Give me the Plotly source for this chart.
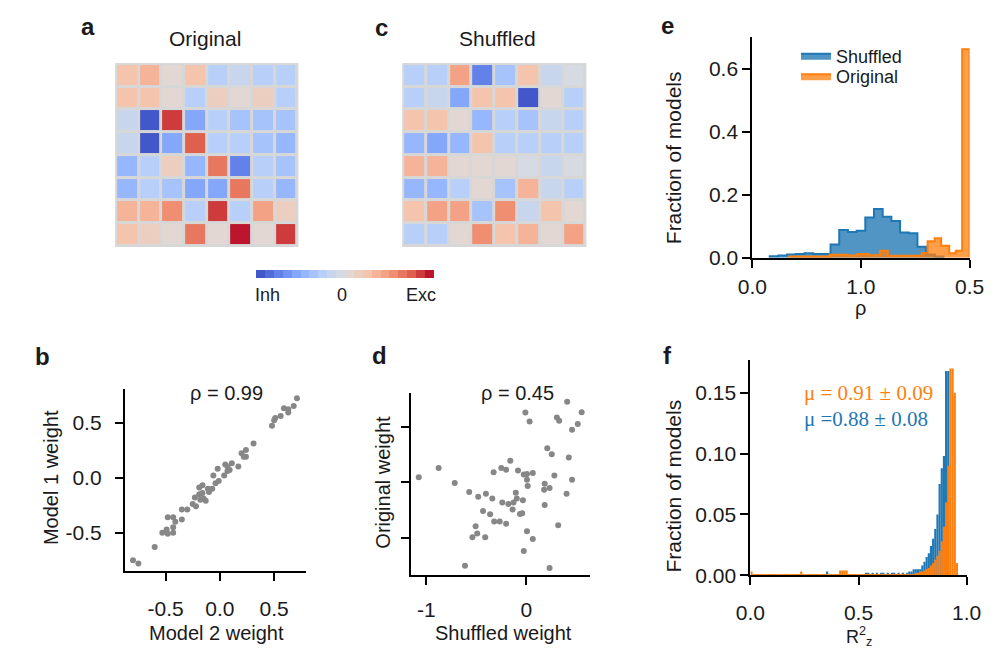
import plotly.graph_objects as go

W, H = 995, 651


def px(x):
    return x / W


def py(y):
    return 1 - y / H


# ---------------- data ----------------
# panel a / c: 8x8 connectivity weights (scaled -1 .. 1)
orig_weights = [
    [0.25, 0.35, 0.02, 0.25, -0.25, -0.10, -0.20, -0.27],
    [0.22, 0.20, 0.00, -0.28, 0.12, 0.10, 0.12, -0.25],
    [-0.15, -0.95, 0.82, -0.60, -0.25, -0.35, -0.38, -0.40],
    [-0.15, -0.95, -0.55, 0.75, -0.25, -0.30, -0.35, -0.50],
    [-0.45, -0.20, 0.15, -0.50, 0.68, -0.75, -0.30, -0.40],
    [-0.45, -0.22, -0.40, -0.60, -0.55, 0.68, -0.28, -0.48],
    [0.35, 0.35, 0.60, -0.20, 0.80, -0.25, 0.40, 0.15],
    [0.25, 0.15, 0.00, 0.62, 0.00, 0.95, 0.02, 0.80],
]
shuf_weights = [
    [-0.28, -0.22, 0.42, -0.75, -0.35, 0.25, -0.15, -0.05],
    [-0.25, -0.12, -0.60, 0.22, 0.30, -0.95, 0.00, -0.20],
    [0.22, 0.25, 0.00, -0.45, -0.25, -0.38, -0.12, -0.30],
    [-0.48, -0.52, -0.42, 0.30, -0.25, -0.20, -0.20, -0.28],
    [0.35, 0.38, 0.08, 0.00, 0.03, -0.02, -0.15, -0.03],
    [-0.45, -0.42, -0.30, 0.10, -0.35, 0.35, -0.12, -0.22],
    [0.25, 0.42, 0.42, -0.35, 0.50, -0.15, 0.22, 0.00],
    [-0.20, -0.30, 0.00, 0.50, 0.22, 0.38, 0.00, 0.48],
]
cbar_labels = ["Inh", "0", "Exc"]

# panel b
model2_weight = [-0.80, -0.75, -0.60, -0.53, -0.49, -0.48, -0.43, -0.43, -0.48, -0.43,
                 -0.41, -0.35, -0.35, -0.30, -0.25, -0.22, -0.23, -0.19, -0.16, -0.18,
                 -0.15, -0.13, -0.16, -0.19, -0.11, -0.10, -0.07, -0.06, -0.04, -0.01,
                 -0.02, 0.04, 0.05, 0.07, 0.07, 0.09, 0.11, 0.17, 0.20, 0.22,
                 0.24, 0.24, 0.31, 0.48, 0.50, 0.51, 0.56, 0.59, 0.63, 0.63,
                 0.68, 0.71]
model1_weight = [-0.75, -0.78, -0.63, -0.50, -0.47, -0.51, -0.50, -0.45, -0.36, -0.36,
                 -0.40, -0.38, -0.29, -0.29, -0.24, -0.26, -0.18, -0.15, -0.14, -0.20,
                 -0.19, -0.21, -0.07, -0.09, -0.10, -0.13, -0.10, 0.02, -0.05, -0.03,
                 0.08, 0.02, 0.12, 0.10, 0.06, 0.07, 0.13, 0.10, 0.22, 0.19,
                 0.25, 0.19, 0.31, 0.47, 0.52, 0.54, 0.56, 0.63, 0.62, 0.59,
                 0.65, 0.72]
b_ticks = [-0.5, 0.0, 0.5]
b_ticktext = ["-0.5", "0.0", "0.5"]

# panel d
shuffled_weight = [-1.077, -0.878, -0.717, -0.572, -0.482, -0.405, -0.341, -0.434, -0.363, -0.322,
                   -0.267, -0.203, -0.508, -0.492, -0.540, -0.412, -0.614, -0.328, -0.251, -0.203,
                   -0.161, -0.084, -0.241, -0.180, -0.138, -0.129, -0.106, -0.096, -0.064, -0.042,
                   -0.035, -0.026, 0.006, 0.006, 0.013, 0.064, -0.010, 0.032, 0.006, 0.064,
                   -0.026, 0.183, 0.232, 0.177, 0.183, 0.280, 0.209, 0.254, 0.232, 0.305,
                   0.328, 0.408, 0.457, 0.514, 0.553, 0.424, 0.457, 0.402, 0.318]
original_weight = [0.044, 0.127, -0.009, -0.089, -0.133, -0.104, -0.148, -0.260, -0.290, -0.355,
                   -0.355, -0.376, -0.399, -0.464, -0.497, -0.497, -0.754, 0.089, 0.127, 0.112,
                   0.192, 0.104, -0.183, -0.198, -0.246, -0.183, -0.095, -0.148, -0.287, -0.281,
                   -0.163, 0.068, 0.074, 0.021, -0.036, 0.083, 0.627, 0.547, -0.444, -0.512,
                   -0.621, -0.015, -0.053, -0.068, -0.207, 0.059, 0.305, 0.251, -0.775, 0.583,
                   0.553, 0.725, 0.473, 0.524, 0.630, 0.222, 0.021, -0.104, -0.388]
d_xticks = [-1, 0]
d_xticktext = ["-1", "0"]
d_yticks = [-0.5, 0.0, 0.5]

# panel e: histogram of rho
e_shuf_edges = [0.04, 0.06, 0.08, 0.10, 0.12, 0.14, 0.16, 0.18, 0.20, 0.22, 0.24,
                0.26, 0.28, 0.30, 0.32, 0.34, 0.36, 0.38, 0.40, 0.42, 0.44]
e_shuf_frac = [0.005, 0.007, 0.010, 0.012, 0.014, 0.012, 0.012, 0.042, 0.088, 0.082,
               0.086, 0.128, 0.155, 0.130, 0.117, 0.080, 0.078, 0.035, 0.010, 0.004]
e_orig_edges = [0.085, 0.178, 0.219, 0.2415, 0.2675, 0.2935, 0.312, 0.390, 0.4034,
                0.4198, 0.4346, 0.4532, 0.4681, 0.4829, 0.500]
e_orig_frac = [0.004, 0.009, 0.007, 0.012, 0.008, 0.022, 0.006, 0.015, 0.052, 0.062,
               0.038, 0.014, 0.022, 0.663]
e_xticks = [0.0, 0.25, 0.5]
e_xticktext = ["0.0", "1.0", "0.5"]
e_yticks = [0.0, 0.2, 0.4, 0.6]

# panel f: histogram of R^2_z (bins of width 0.01 from 0 to 1)
f_bin_width = 0.01
f_shuf_frac = [
    0, 0, 0, 0, 0, 0, 0, 0, 0, 0,
    0, 0, 0, 0, 0, 0, 0, 0, 0, 0,
    0, 0, 0, 0, 0, 0, 0, 0, 0, 0,
    0, 0, 0, 0, 0, 0.003, 0, 0, 0, 0,
    0, 0, 0, 0, 0, 0, 0, 0, 0, 0,
    0, 0, 0, 0.002, 0.002, 0, 0.002, 0, 0.002, 0,
    0.002, 0.002, 0, 0.002, 0, 0.002, 0.002, 0, 0.002, 0,
    0.002, 0, 0.002, 0.003, 0.003, 0.005, 0.005, 0.005, 0.005, 0.008,
    0.011, 0.015, 0.018, 0.024, 0.030, 0.038, 0.050, 0.075, 0.088, 0.098,
    0.168, 0.168, 0, 0, 0, 0, 0, 0, 0, 0,
]
f_orig_frac = [
    0.003, 0.0008, 0.0008, 0.0008, 0.0008, 0.0008, 0.0008, 0.0008, 0.0008, 0.0008,
    0.0008, 0.0008, 0.0008, 0.0008, 0.0008, 0.0008, 0.0008, 0.0008, 0.0008, 0.0008,
    0.0008, 0.0008, 0.0008, 0.003, 0.0008, 0.0008, 0.0008, 0.0008, 0.0008, 0.0008,
    0.0008, 0.0008, 0.0008, 0.0008, 0.0008, 0.0008, 0.0008, 0.0008, 0.0008, 0.0008,
    0.0008, 0.004, 0.004, 0.004, 0.004, 0.0008, 0.0008, 0.0008, 0.0008, 0.0008,
    0.0008, 0.0008, 0.0008, 0.0008, 0.0008, 0.0008, 0.0008, 0.0008, 0.0008, 0.0008,
    0.0008, 0.0008, 0.0008, 0.0008, 0.0008, 0.0008, 0.0008, 0.0008, 0.0008, 0.0008,
    0.0008, 0.0008, 0.0008, 0.0008, 0.0008, 0.0008, 0.002, 0.002, 0.003, 0.003,
    0.004, 0.005, 0.006, 0.008, 0.010, 0.013, 0.016, 0.020, 0.028, 0.040,
    0.060, 0.090, 0.170, 0.170, 0.150, 0.010, 0, 0, 0, 0,
]
f_xticks = [0.0, 0.5, 1.0]
f_yticks = [0.0, 0.05, 0.10, 0.15]

# ---------------- styles ----------------
FONT = "Liberation Sans, Arial, Helvetica, sans-serif"
SERIF = "Liberation Serif, Times New Roman, serif"
TXT = "#1a1a1a"
BLUE = "#1f77b4"
ORANGE = "#ff7f0e"
DOT = "#878787"
GRID = "#d7d7d7"

cw = [(58, 76, 193), (98, 130, 234), (141, 176, 254), (184, 208, 249), (221, 220, 220),
      (245, 196, 173), (244, 154, 123), (222, 96, 77), (180, 4, 38)]


def cw_at(t):
    s = t * 8
    i = min(int(s), 7)
    f = s - i
    a, b = cw[i], cw[i + 1]
    return "rgb(%d,%d,%d)" % tuple(round(a[k] + (b[k] - a[k]) * f) for k in range(3))


NSTEP = 20
cscale = []
for i in range(NSTEP):
    c = cw_at((i + 0.5) / NSTEP)
    cscale.append([i / NSTEP, c])
    cscale.append([(i + 1) / NSTEP, c])


def step_xy(edges, heights):
    xs = [edges[0]] + list(edges[:-1]) + [edges[-1]]
    ys = [0] + list(heights) + [0]
    return xs, ys


fig = go.Figure()

# heatmaps
fig.add_trace(go.Heatmap(
    z=orig_weights, xaxis="x", yaxis="y", colorscale=cscale, zmin=-1, zmax=1,
    xgap=3, ygap=3, hoverinfo="skip", showscale=True,
    colorbar=dict(orientation="h", x=px(332), xanchor="center", y=py(271), yanchor="middle",
                  len=178, lenmode="pixels", thickness=8, thicknessmode="pixels",
                  outlinewidth=0, xpad=0, ypad=0, ticks="", showticklabels=False),
))
fig.add_trace(go.Heatmap(
    z=shuf_weights, xaxis="x2", yaxis="y2", colorscale=cscale, zmin=-1, zmax=1,
    xgap=3, ygap=3, hoverinfo="skip", showscale=False,
))

# scatter b
fig.add_trace(go.Scatter(x=model2_weight, y=model1_weight, mode="markers",
                         marker=dict(color=DOT, size=6), xaxis="x3", yaxis="y3",
                         showlegend=False))
# scatter d
fig.add_trace(go.Scatter(x=shuffled_weight, y=original_weight, mode="markers",
                         marker=dict(color=DOT, size=6), xaxis="x4", yaxis="y4",
                         showlegend=False))

# histogram e
sx, sy = step_xy(e_shuf_edges, e_shuf_frac)
fig.add_trace(go.Scatter(x=sx, y=sy, mode="lines", line=dict(color=BLUE, width=2, shape="hv"),
                         fill="tozeroy", fillcolor="rgba(31,119,180,0.78)", name="Shuffled",
                         xaxis="x5", yaxis="y5", legend="legend"))
ox, oy = step_xy(e_orig_edges, e_orig_frac)
fig.add_trace(go.Scatter(x=ox, y=oy, mode="lines", line=dict(color=ORANGE, width=2, shape="hv"),
                         fill="tozeroy", fillcolor="rgba(255,127,14,0.75)", name="Original",
                         xaxis="x5", yaxis="y5", legend="legend2"))

# histogram f
f_centers = [(i + 0.5) * f_bin_width for i in range(len(f_shuf_frac))]
fig.add_trace(go.Bar(x=f_centers, y=f_shuf_frac, width=f_bin_width, marker=dict(color=BLUE, line=dict(width=0)),
                     xaxis="x6", yaxis="y6", showlegend=False))
fig.add_trace(go.Bar(x=f_centers, y=f_orig_frac, width=f_bin_width, marker=dict(color=ORANGE, line=dict(width=0)),
                     xaxis="x6", yaxis="y6", showlegend=False))

hidden = dict(visible=False, showgrid=False, zeroline=False)
tickfont = dict(size=21, color=TXT, family=FONT)
ax = dict(showline=True, linecolor="black", linewidth=2, ticks="outside", ticklen=8,
          tickwidth=2, tickcolor="black", showgrid=False, zeroline=False,
          tickfont=tickfont, fixedrange=True)
legfont = dict(size=18, color=TXT, family=FONT)

layout = dict(
    width=W, height=H, autosize=False,
    margin=dict(l=0, r=0, t=0, b=0),
    paper_bgcolor="white", plot_bgcolor="rgba(0,0,0,0)",
    font=dict(family=FONT, color=TXT),
    barmode="overlay",
    xaxis=dict(domain=[px(96), px(283)], range=[-0.5, 7.5], anchor="y", **hidden),
    yaxis=dict(domain=[py(242), py(57)], range=[7.5, -0.5], anchor="x", **hidden),
    xaxis2=dict(domain=[px(392), px(580)], range=[-0.5, 7.5], anchor="y2", **hidden),
    yaxis2=dict(domain=[py(242), py(57)], range=[7.5, -0.5], anchor="x2", **hidden),
    xaxis3=dict(domain=[px(105), px(292)], range=[-0.875, 0.795], anchor="y3",
                tickvals=b_ticks, ticktext=b_ticktext, ticklabelstandoff=9, **ax),
    yaxis3=dict(domain=[py(573), py(388)], range=[-0.85, 0.80], anchor="x3",
                tickvals=b_ticks, ticktext=b_ticktext, ticklabelstandoff=9, **ax),
    xaxis4=dict(domain=[px(400), px(585)], range=[-1.155, 0.64], anchor="y4",
                tickvals=d_xticks, ticktext=d_xticktext, ticklabelstandoff=7, **ax),
    yaxis4=dict(domain=[py(577), py(392)], range=[-0.84, 0.80], anchor="x4",
                tickvals=d_yticks, showticklabels=False, **ax),
    xaxis5=dict(domain=[px(752), px(976)], range=[0, 0.5], anchor="y5",
                tickvals=e_xticks, ticktext=e_xticktext, ticklabelstandoff=1, **ax),
    yaxis5=dict(domain=[py(254), py(30)], range=[0, 0.70], anchor="x5",
                tickvals=e_yticks, tickformat=".1f", ticklabelstandoff=0, **ax),
    xaxis6=dict(domain=[px(750), px(973)], range=[0, 1.0], anchor="y6",
                tickvals=f_xticks, tickformat=".1f", ticklabelstandoff=10, **ax),
    yaxis6=dict(domain=[py(577), py(358)], range=[0, 0.177], anchor="x6",
                tickvals=f_yticks, tickformat=".2f", ticklabelstandoff=0, **ax),
    legend=dict(x=px(797), y=py(30), xanchor="left", yanchor="top",
                bgcolor="rgba(0,0,0,0)", font=legfont, itemwidth=30),
    legend2=dict(x=px(797), y=py(51), xanchor="left", yanchor="top",
                 bgcolor="rgba(0,0,0,0)", font=legfont, itemwidth=30),
    shapes=[
        dict(type="rect", xref="paper", yref="paper", x0=px(95), x1=px(284), y0=py(243), y1=py(56),
             fillcolor=GRID, line=dict(width=0), layer="below"),
        dict(type="rect", xref="paper", yref="paper", x0=px(391), x1=px(581), y0=py(243), y1=py(56),
             fillcolor=GRID, line=dict(width=0), layer="below"),
    ],
)


def ann(x, y, s, size=20, color=TXT, angle=0, xanchor="center", family=FONT):
    return dict(x=px(x), y=py(y), xref="paper", yref="paper", text=s, showarrow=False,
                xanchor=xanchor, yanchor="middle", textangle=angle,
                font=dict(size=size, color=color, family=family))


annotations = [
    ann(67, 19, "<b>a</b>", 24), ann(370, 20, "<b>c</b>", 24), ann(665, 18, "<b>e</b>", 24),
    ann(20, 354, "<b>b</b>", 24), ann(368, 353, "<b>d</b>", 24), ann(665, 353, "<b>f</b>", 24),
    ann(188, 31, "Original", 21), ann(489, 31, "Shuffled", 21),
    ann(252, 292, cbar_labels[0], 18), ann(329, 292, cbar_labels[1], 18),
    ann(410, 292, cbar_labels[2], 18),
    ann(210, 392, "ρ = 0.99", 20), ann(510, 392, "ρ = 0.45", 20),
    ann(199, 636, "Model 2 weight", 20), ann(29, 478, "Model 1 weight", 20, angle=-90),
    ann(495, 636, "Shuffled weight", 20), ann(371, 482, "Original weight", 20, angle=-90),
    ann(671, 152, "Fraction of models", 21, angle=-90), ann(864, 305, "ρ", 20),
    ann(671, 486, "Fraction of models", 21, angle=-90),
    ann(862, 639, "R<sup>2</sup><sub>z</sub>", 18),
    ann(803, 392, "μ = 0.91 ± 0.09", 21, color=ORANGE, xanchor="left", family=SERIF),
    ann(803, 418, "μ =0.88 ± 0.08", 21, color=BLUE, xanchor="left", family=SERIF),
]
layout["annotations"] = annotations

fig.update_layout(**layout)
fig.write_html("out.html")
